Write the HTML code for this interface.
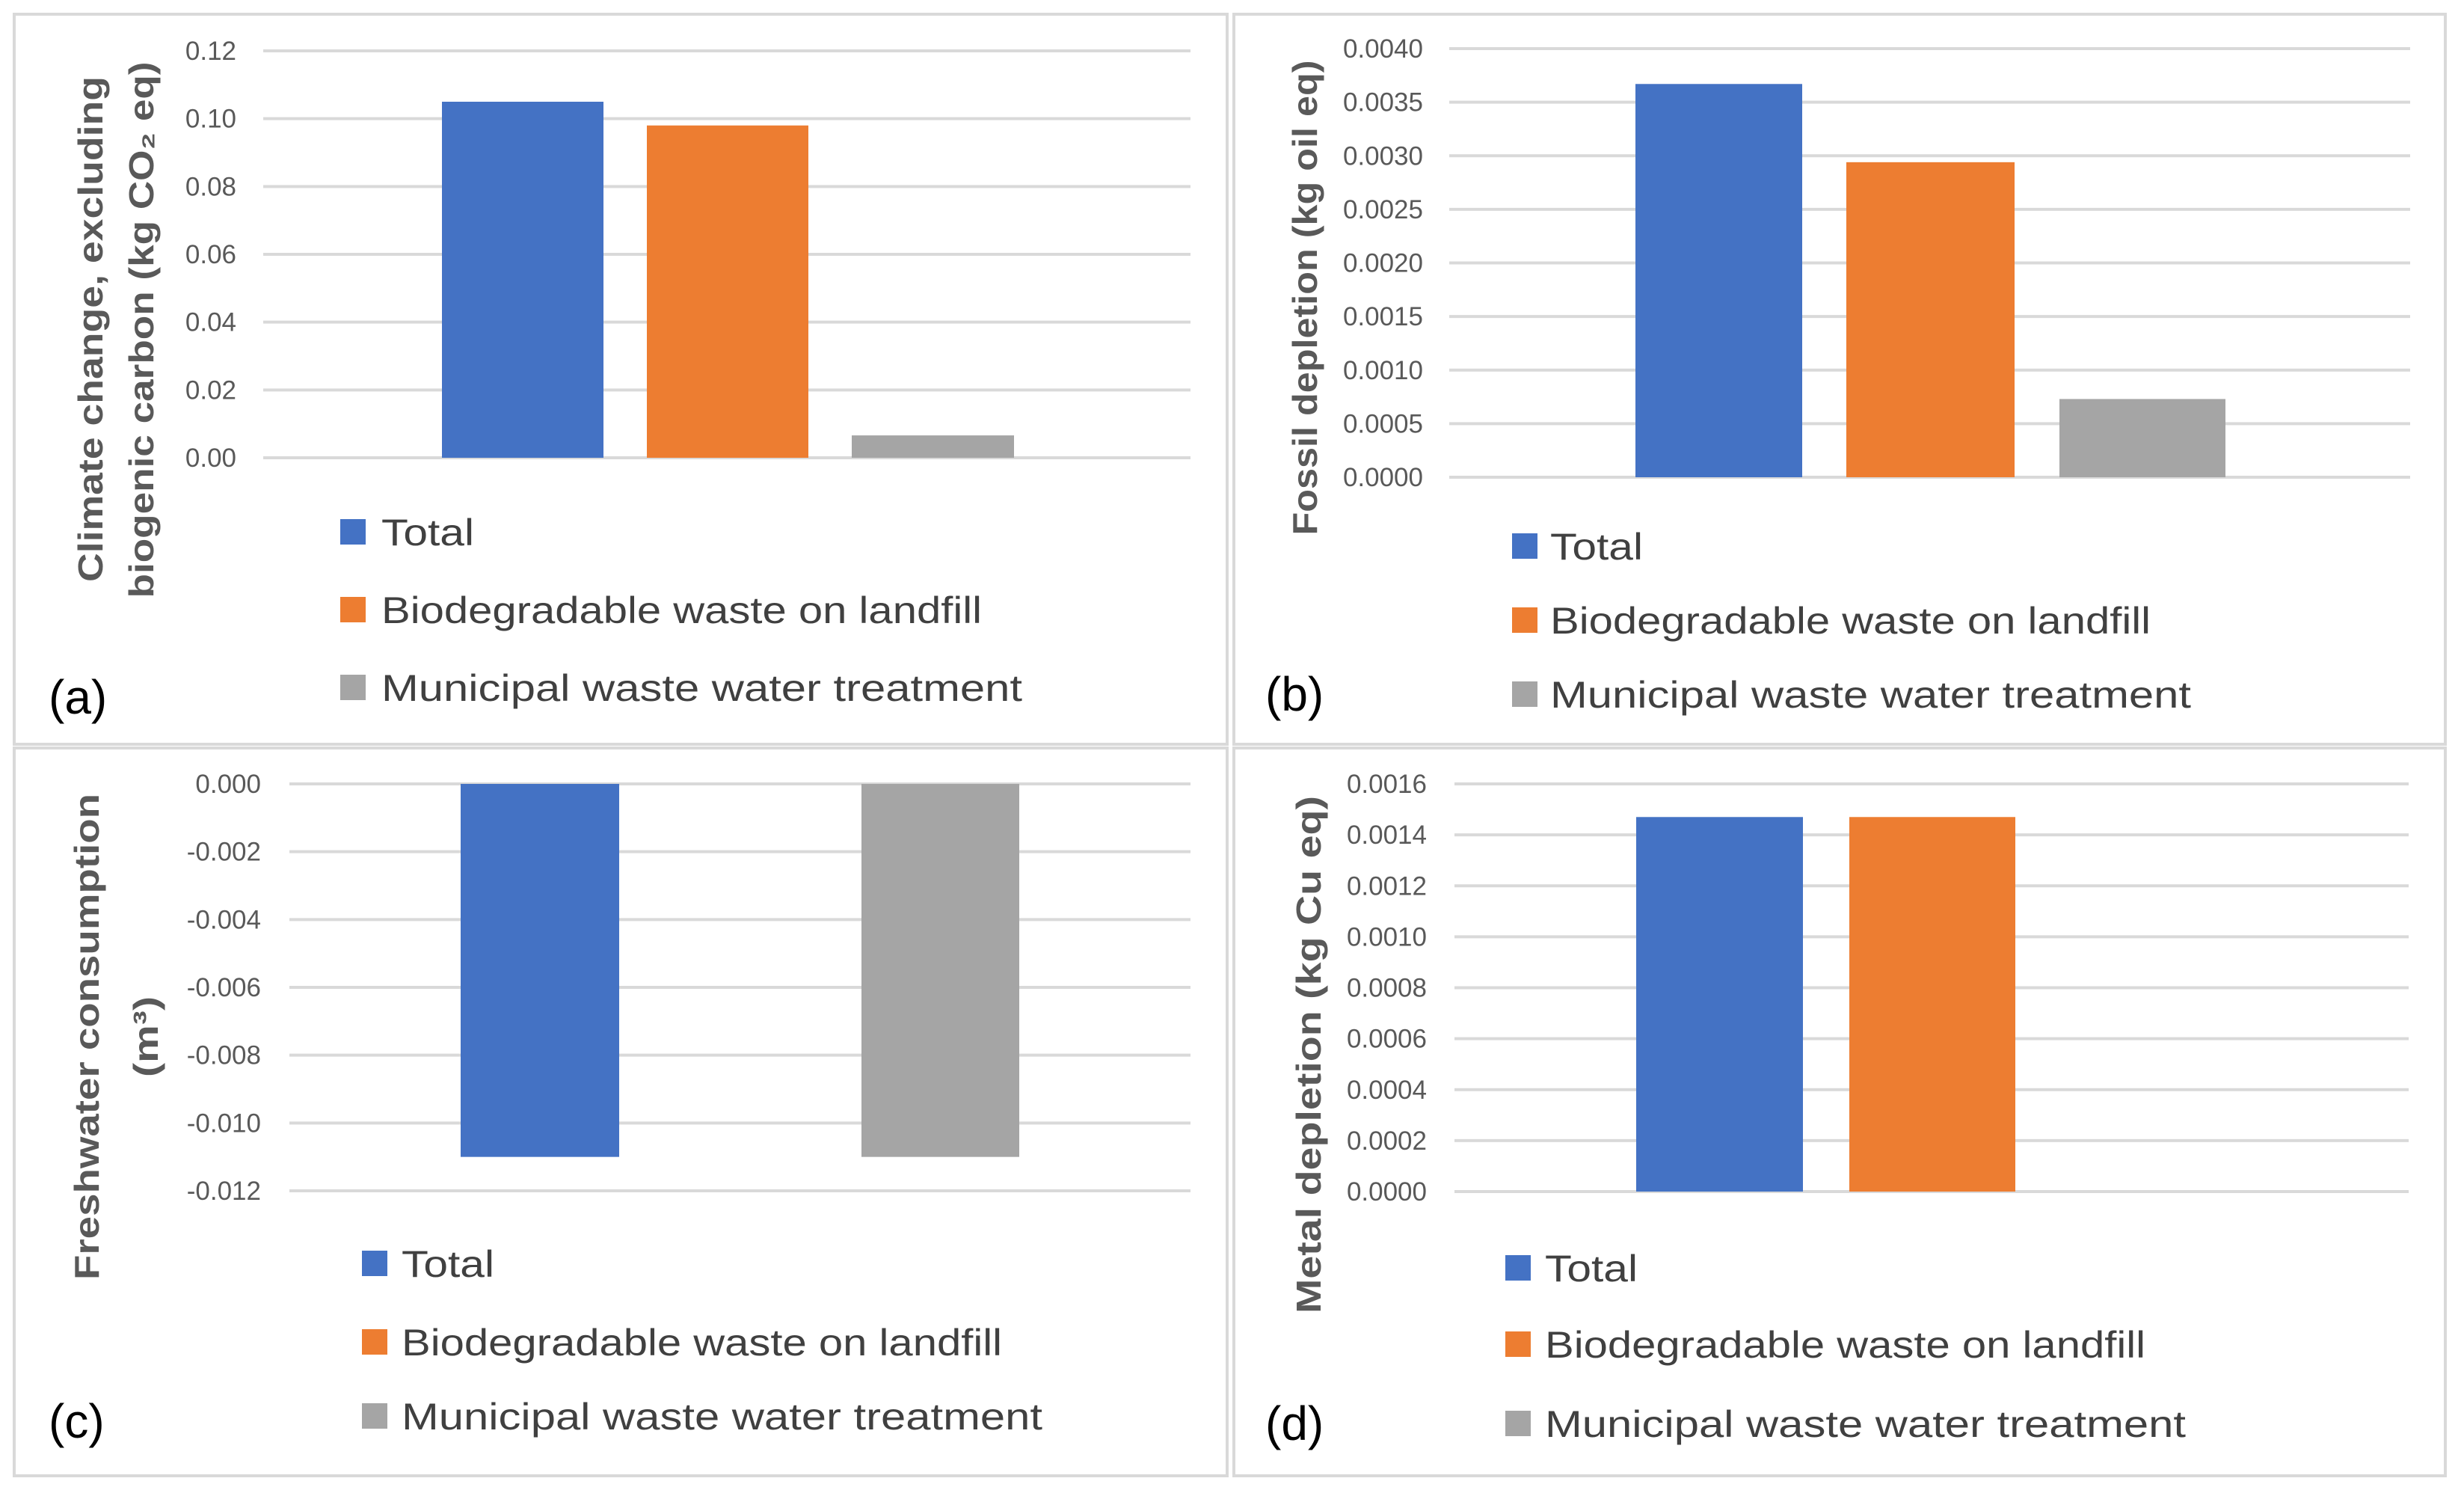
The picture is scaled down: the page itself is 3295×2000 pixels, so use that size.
<!DOCTYPE html>
<html><head><meta charset="utf-8"><style>
html,body{margin:0;padding:0;background:#fff;}
svg{display:block;font-family:"Liberation Sans",sans-serif;}
</style></head>
<body>
<svg id="chart" width="3295" height="2000" viewBox="0 0 3295 2000" xmlns="http://www.w3.org/2000/svg"></svg>
<script>
const seriesNames = ["Total","Biodegradable waste on landfill","Municipal waste water treatment"];
const seriesColors = ["#4472C4","#ED7D31","#A5A5A5"];
const valuesA = [0.105, 0.098, 0.0066];
const ticksA = ["0.00","0.02","0.04","0.06","0.08","0.10","0.12"];
const valuesB = [0.00367, 0.00294, 0.00073];
const ticksB = ["0.0000","0.0005","0.0010","0.0015","0.0020","0.0025","0.0030","0.0035","0.0040"];
const valuesC = [-0.0110, 0, -0.0110];
const ticksC = ["-0.012","-0.010","-0.008","-0.006","-0.004","-0.002","0.000"];
const valuesD = [0.00147, 0.00147, 0];
const ticksD = ["0.0000","0.0002","0.0004","0.0006","0.0008","0.0010","0.0012","0.0014","0.0016"];

const NS="http://www.w3.org/2000/svg";
const svg=document.getElementById('chart');
function mk(tag,attrs,parent){const e=document.createElementNS(NS,tag);for(const k in attrs)e.setAttribute(k,attrs[k]);(parent||svg).appendChild(e);return e;}

const panels=[
 {key:"a",values:valuesA,ticks:ticksA,box:[19,19,1622,976],x0:352,x1:1592,yTop:68,yBot:612,min:0,max:0.12,zeroY:612,
  bars:[[591,807],[865,1081],[1139,1356]],tickEnd:316,
  titles:[{t:"Climate change, excluding",x:121,y:440,len:676},{t:"biogenic carbon (kg CO\u2082 eq)",x:189,y:441,len:717}],
  legX:455,legTX:510,legY:[711,815,919],labX:65,labY:932},
 {key:"b",values:valuesB,ticks:ticksB,box:[1650,19,1620,976],x0:1938,x1:3223,yTop:65,yBot:638,min:0,max:0.004,
  bars:[[2187,2410],[2469,2694],[2754,2976]],tickEnd:1903,
  titles:[{t:"Fossil depletion (kg oil eq)",x:1745,y:398,len:635}],
  legX:2022,legTX:2073,legY:[730,829,928],labX:1692,labY:928},
 {key:"c",values:valuesC,ticks:ticksC,box:[19,1000,1622,973],x0:387,x1:1592,yTop:1048,yBot:1592,min:-0.012,max:0,
  bars:[[616,828],[884,1096],[1152,1363]],tickEnd:349,
  titles:[{t:"Freshwater consumption",x:116,y:1386,len:650},{t:"(m\u00B3)",x:195,y:1386,len:108}],
  legX:484,legTX:537,legY:[1689,1794,1893],labX:65,labY:1900},
 {key:"d",values:valuesD,ticks:ticksD,box:[1650,1000,1620,973],x0:1945,x1:3221,yTop:1048,yBot:1593,min:0,max:0.0016,
  bars:[[2188,2411],[2473,2695],[2758,2980]],tickEnd:1908,
  titles:[{t:"Metal depletion (kg Cu eq)",x:1750,y:1410,len:692}],
  legX:2013,legTX:2066,legY:[1695,1797,1903],labX:1692,labY:1903}
];
const legLens=[124,803,857];

panels.forEach(p=>{
  const g=mk('g',{});
  
  
  const border=mk('rect',{x:p.box[0],y:p.box[1],width:p.box[2],height:p.box[3],fill:'#fff',stroke:'#d9d9d9','stroke-width':4},g);
  
  
  const yScale=v=>p.yBot-(v-p.min)/(p.max-p.min)*(p.yBot-p.yTop);
  const n=p.ticks.length;
  p.ticks.forEach((t,i)=>{
    const v=p.min+(p.max-p.min)*i/(n-1);
    const y=yScale(v);
    const gl=mk('line',{x1:p.x0,x2:p.x1,y1:y,y2:y,stroke:'#d9d9d9','stroke-width':4},g);
    
    
    const tl=mk('text',{x:p.tickEnd,y:y+12,'text-anchor':'end','font-size':35,fill:'#595959'},g);
    
    
    tl.textContent=t;
  });
  const zero=yScale(0);
  p.values.forEach((v,i)=>{
    if(v===0)return;
    const y=yScale(v);
    const r=mk('rect',{x:p.bars[i][0],y:Math.min(y,zero),width:p.bars[i][1]-p.bars[i][0],height:Math.abs(zero-y),fill:seriesColors[i]},g);
    
    
  });
  p.titles.forEach(tt=>{
    const t=mk('text',{x:0,y:0,transform:`translate(${tt.x},${tt.y}) rotate(-90)`,'text-anchor':'middle','dominant-baseline':'central','font-size':46,'font-weight':'bold',fill:'#595959',textLength:tt.len,lengthAdjust:'spacingAndGlyphs'},g);
    
    
    t.textContent=tt.t;
  });
  seriesNames.forEach((s,i)=>{
    const cy=p.legY[i];
    const sw=mk('rect',{x:p.legX,y:cy-17,width:34,height:34,fill:seriesColors[i]},g);
    
    
    const lt=mk('text',{x:p.legTX,y:cy+18,'font-size':50,fill:'#404040',textLength:legLens[i],lengthAdjust:'spacingAndGlyphs'},g);
    
    
    lt.textContent=s;
  });
  const lab=mk('text',{x:p.labX,y:p.labY+22,'font-size':64,fill:'#000'},g);
  
  
  lab.textContent='('+p.key+')';
});
</script>
</body></html>
